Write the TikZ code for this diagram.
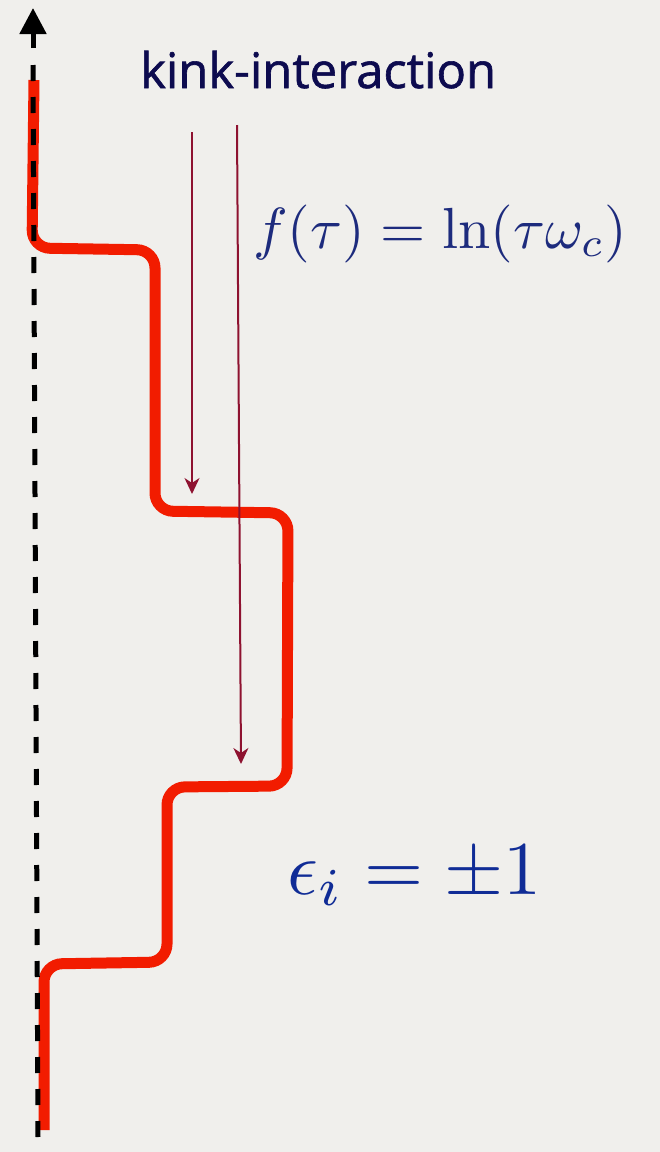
\documentclass[tikz,border=0pt]{standalone}
\usepackage{fontspec}
\newfontfamily\kinkfont[FakeBold=1.2]{Open Sans}
\usetikzlibrary{arrows.meta}
\definecolor{paper}{HTML}{F0EFEC}
\definecolor{kinkred}{HTML}{F21C00}
\definecolor{darkred}{HTML}{8E1230}
\definecolor{navy}{HTML}{0D0B4F}
\definecolor{formblue}{HTML}{1D2B7D}
\definecolor{epsblue}{HTML}{102C96}
\tikzset{
  axisline/.style={line width=5pt, black},
  kinkpath/.style={line width=11pt, kinkred, rounded corners=18pt, line cap=butt},
  interarrow/.style={line width=2pt, darkred, -{Stealth[length=16pt,width=15pt,inset=5pt]}},
  lbl/.style={inner sep=0pt, anchor=base west}
}
\begin{document}
\begin{tikzpicture}[x=1pt,y=-1pt]
\fill[paper] (0,0) rectangle (660,1152);
\useasboundingbox (0,0) rectangle (660,1152);
% kink path
\draw[kinkpath] (34,80) -- (32,248) -- (155,250) -- (155,511) -- (288,513)
  -- (287,786) -- (167,787) -- (167,962) -- (44,964) -- (44,1130);
% time axis (drawn over the kink path)
\coordinate (axtop) at (33,65);
\coordinate (axbot) at (38,1137);
\coordinate (arrbase) at (33,48);
\coordinate (arrtip) at (33,8);
\draw[axisline, dash pattern=on 16pt off 16pt] (axtop) -- (axbot);
\draw[axisline, -{Triangle[length=26pt,width=26pt]}] (arrbase) -- (arrtip);
% interaction arrows
\coordinate (a1s) at (192,132);
\coordinate (a1e) at (192,494);
\coordinate (a2s) at (237,125);
\coordinate (a2e) at (241,764);
\draw[interarrow] (a1s) -- (a1e);
\draw[interarrow] (a2s) -- (a2e);
% labels
\node[lbl, text=navy] (kink) at (140,88) {\kinkfont\fontsize{49}{54}\selectfont kink-interaction};
\node[lbl, text=formblue] (ftau) at (253,248) {\scalebox{5.8}{$f(\tau)=\ln(\tau\omega_c)$}};
\node[lbl, text=epsblue] (eps) at (287,894) {\scalebox{7.6}{$\epsilon_i=\pm1$}};
\end{tikzpicture}
\end{document}
